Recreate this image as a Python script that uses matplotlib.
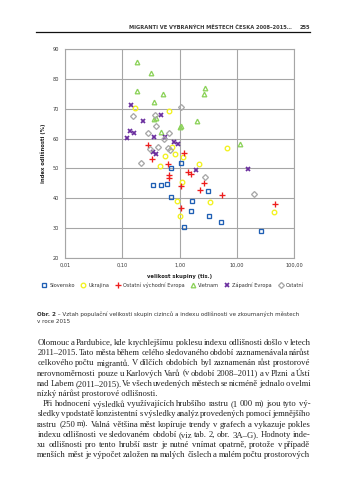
import numpy as np
import matplotlib
matplotlib.use('Agg')
import matplotlib.pyplot as plt

# data (x = group size in thousands, y = index in %)
slovensko_x = [0.70, 1.05, 0.34, 0.47, 0.60, 0.71, 1.60, 1.18, 3.09, 1.65, 3.30, 5.34, 26.4]
slovensko_y = [50.0, 51.8, 44.4, 44.3, 44.8, 40.5, 35.5, 30.2, 42.3, 39.0, 33.9, 32.0, 29.0]

ukrajina_x = [0.169, 0.645, 0.736, 0.83, 0.55, 1.16, 0.46, 6.64, 2.21, 1.10, 0.90, 1.03, 3.43, 44.4]
ukrajina_y = [70.3, 69.3, 57.1, 54.9, 54.2, 53.9, 50.8, 56.7, 51.3, 45.4, 39.0, 34.1, 38.7, 35.2]

vychod_x = [0.277, 1.19, 0.33, 0.63, 1.40, 0.65, 0.65, 1.07, 1.05, 1.60, 2.64, 2.30, 5.43, 46.2]
vychod_y = [57.9, 55.0, 53.3, 51.4, 48.7, 47.8, 46.6, 44.0, 36.8, 48.2, 45.0, 42.7, 41.1, 38.1]

vietnam_x = [0.178, 0.313, 0.178, 0.507, 0.357, 0.36, 0.39, 0.48, 1.0, 1.07, 2.77, 2.65, 2.04, 11.2]
vietnam_y = [85.8, 81.9, 76.0, 74.9, 72.2, 66.6, 66.8, 62.2, 63.8, 64.3, 76.9, 74.9, 65.9, 58.3]

zapad_x = [0.142, 0.23, 0.468, 0.135, 0.158, 0.119, 0.357, 0.557, 0.79, 0.93, 0.34, 0.39, 1.93, 15.4]
zapad_y = [71.3, 66.0, 68.0, 62.4, 61.8, 60.3, 60.4, 60.4, 58.7, 58.2, 55.5, 54.9, 49.3, 49.9]

ostatni_x = [1.07, 0.156, 0.376, 0.39, 0.28, 0.66, 0.54, 0.304, 0.415, 0.62, 0.68, 0.212, 2.77, 20.1]
ostatni_y = [70.6, 67.5, 67.8, 64.2, 62.0, 62.0, 59.85, 56.5, 57.1, 56.7, 56.2, 51.9, 47.0, 41.5]

x_ticks = [0.01, 0.1, 1, 10, 100]
x_ticklabels = ['0,01', '0,10', '1,00', '10,00', '100,00']
y_ticks = [20, 30, 40, 50, 60, 70, 80, 90]

header = 'MIGRANTI VE VYBRANÝCH MĚSTECH ČESKA 2008–2015…'
page_no = '255'
caption_1 = ' – Vztah populační velikosti skupin cizinců a indexu odlišnosti ve zkoumaných městech'
caption_2 = 'v roce 2015'

# (line, justified, indented)
body = [
    ('Olomouc a Pardubice, kde k rychlejšímu poklesu indexu odlišnosti došlo v letech', True, False),
    ('2011–2015. Tato města během celého sledovaného období zaznamenávala nárůst', True, False),
    ('celkového počtu migrantů. V dílčích obdobích byl zaznamenán růst prostorové', True, False),
    ('nerovnoměrnosti pouze u Karlových Varů (v období 2008–2011) a v Plzni a Ústí', True, False),
    ('nad Labem (2011–2015). Ve všech uvedených městech se nicméně jednalo o velmi', True, False),
    ('nízký nárůst prostorové odlišnosti.', False, False),
    ('Při hodnocení výsledků využívajících hrubšího rastru (1 000 m) jsou tyto vý-', True, True),
    ('sledky v podstatě konzistentní s výsledky analýz provedených pomocí jemnějšího', True, False),
    ('rastru (250 m). Valná většina měst kopíruje trendy v grafech a vykazuje pokles', True, False),
    ('indexu odlišnosti ve sledovaném období (viz tab. 2, obr. 3A–G). Hodnoty inde-', True, False),
    ('xu odlišnosti pro tento hrubší rastr je nutné vnímat opatrně, protože v případě', True, False),
    ('menších měst je výpočet založen na malých číslech a malém počtu prostorových', True, False),
]

W, H = 346, 498
fig = plt.figure(figsize=(W / 100, H / 100), dpi=100)
fig.patch.set_facecolor('white')
renderer = fig.canvas.get_renderer()


def fx(px):
    return px / W


def fy(py):
    return 1 - py / H


def text_w(t):
    # width of a text as a fraction of the figure width
    return t.get_window_extent(renderer).width / fig.bbox.width


# chart area
ax = fig.add_axes([fx(65), fy(257.6), fx(294.3 - 65), (257.6 - 49.3) / H])
grid_c = '#a6a6a6'
ms = 3.0
mew = 0.95
ax.plot(slovensko_x, slovensko_y, 's', ms=ms, mfc='none', mec='#1f5fb4', mew=mew, label='Slovensko')
ax.plot(ukrajina_x, ukrajina_y, 'o', ms=ms + 0.3, mfc='none', mec='#f2f21e', mew=mew, label='Ukrajina')
ax.plot(vychod_x, vychod_y, '+', ms=ms + 1.6, mec='#ee1d1d', mew=mew, label='Ostatní východní Evropa')
ax.plot(vietnam_x, vietnam_y, '^', ms=ms + 0.3, mfc='none', mec='#8cd25a', mew=mew, label='Vietnam')
ax.plot(zapad_x, zapad_y, 'x', ms=ms, mec='#6a2e9e', mew=mew + 0.3, label='Západní Evropa')
ax.plot(ostatni_x, ostatni_y, 'D', ms=ms, mfc='none', mec='#a8a8a8', mew=mew, label='Ostatní')

ax.set_xscale('log')
ax.set_xlim(0.01, 100)
ax.set_ylim(20, 90)
ax.set_xticks(x_ticks)
ax.set_xticklabels(x_ticklabels)
ax.xaxis.set_minor_locator(matplotlib.ticker.NullLocator())
ax.set_yticks(y_ticks)
ax.tick_params(length=0, labelsize=3.6, colors='#333333', pad=4)
ax.grid(True, color=grid_c, linewidth=0.8)
ax.set_axisbelow(True)
for s in ax.spines.values():
    s.set_color(grid_c)
    s.set_linewidth(0.8)
ax.set_xlabel('velikost skupiny (tis.)', fontsize=3.8, fontweight='bold', color='#222222', labelpad=4)
ax.set_ylabel('index odlišnosti (%)', fontsize=3.8, fontweight='bold', color='#222222', labelpad=5)

handles, labels = ax.get_legend_handles_labels()
fig.legend(handles, labels, ncol=6, loc='center', bbox_to_anchor=(fx(173), fy(285)),
           frameon=False, fontsize=3.6, handlelength=0.8, handletextpad=0.6,
           columnspacing=1.3, labelcolor='#333333')

# header
fig.text(fx(292), fy(27.5), header, ha='right', va='center', fontsize=3.7,
         fontweight='bold', color='#3a3a3a', family='Liberation Sans Narrow')
fig.text(fx(310), fy(27.5), page_no, ha='right', va='center', fontsize=3.7,
         fontweight='bold', color='#3a3a3a', family='Liberation Sans Narrow')
fig.add_artist(plt.Line2D([fx(36), fx(310)], [fy(32.3), fy(32.3)], color='#111111', lw=0.9))

# caption
cap_size = 4.1
c1 = fig.text(fx(37.3), fy(314.3), 'Obr. 2', ha='left', va='center', fontsize=cap_size,
              fontweight='bold', color='#333333')
fig.text(fx(37.3) + text_w(c1), fy(314.3), caption_1, ha='left', va='center',
         fontsize=cap_size, color='#333333')
fig.text(fx(37.3), fy(321.2), caption_2, ha='left', va='center', fontsize=cap_size, color='#333333')

# body text, justified between the margins
left, right = 37.3, 310.5
body_font = 'Liberation Serif'
body_size = 6.2

for i, (line, justify, indent) in enumerate(body):
    y = fy(343 + i * 10.2)
    x0 = fx(left + (5.5 if indent else 0))
    words = line.split(' ')
    if not justify:
        fig.text(x0, y, line, ha='left', va='center', fontsize=body_size,
                 family=body_font, color='#222222')
        continue
    arts = [fig.text(0, y, w, ha='left', va='center', fontsize=body_size,
                     family=body_font, color='#222222') for w in words]
    widths = [text_w(a) for a in arts]
    gap = (fx(right) - x0 - sum(widths)) / (len(words) - 1)
    x = x0
    for a, w in zip(arts, widths):
        a.set_x(x)
        x += w + gap

fig.savefig('out.png', dpi=100)
